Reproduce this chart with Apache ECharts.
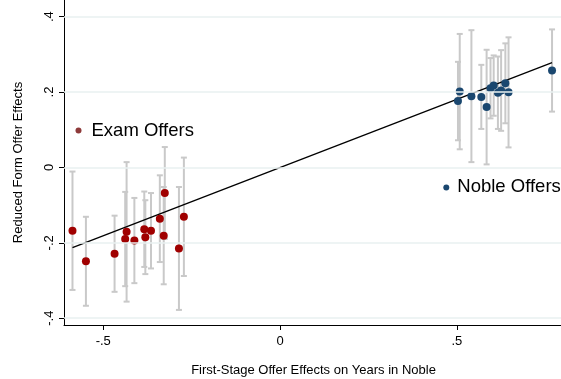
<!DOCTYPE html>
<html>
<head>
<meta charset="utf-8">
<script src="https://cdn.jsdelivr.net/npm/echarts@6/dist/echarts.min.js"></script>
<style>
  html, body { margin: 0; padding: 0; background: #fff; }
  #chart { width: 561px; height: 379px; }
</style>
</head>
<body>
<div id="chart"></div>
<script>
// Exam-school offers: first-stage effect (x), reduced-form effect (y), CI half-width
const examX  = [-0.587, -0.549, -0.468, -0.434, -0.438, -0.412, -0.384, -0.381, -0.365, -0.340, -0.326, -0.329, -0.286, -0.272];
const examY  = [-0.168, -0.249, -0.229, -0.171, -0.190, -0.194, -0.164, -0.185, -0.168, -0.136, -0.068, -0.181, -0.215, -0.131];
const examCI = [ 0.157,  0.118,  0.101,  0.185,  0.125,  0.113,  0.100,  0.098,  0.100,  0.115,  0.122,  0.129,  0.163,  0.157];

// Noble campus offers
const nobleX  = [0.508, 0.503, 0.541, 0.569, 0.584, 0.595, 0.604, 0.616, 0.625, 0.637, 0.646, 0.769];
const nobleY  = [0.201, 0.176, 0.189, 0.187, 0.160, 0.210, 0.217, 0.198, 0.204, 0.223, 0.199, 0.257];
const nobleCI = [0.153, 0.104, 0.175, 0.085, 0.152, 0.080, 0.080, 0.096, 0.107, 0.106, 0.146, 0.109];

// Fitted line across the range of the offer effects
const fitX = [-0.587, 0.769];
const fitY = [-0.213, 0.278];

// Group labels placed inside the plot
const groupNames = ['Exam Offers', 'Noble Offers'];
const groupLabelX = [-0.570, 0.470];
const groupLabelY = [0.098, -0.053];

// Axis ticks
const xTickVals = [-0.5, 0, 0.5];
const yTickVals = [-0.4, -0.2, 0, 0.2, 0.4];

const FONT = '"Liberation Sans", Arial, sans-serif';
const EXAM_COLOR = '#a00000';
const NOBLE_COLOR = '#1a476f';
const BAR_COLOR = '#c9c9c9';

const stataNum = v => {
  if (Math.abs(v) < 1e-9) return '0';
  return String(+v.toFixed(2)).replace('0.', '.');
};

const zip3 = (a, b, c) => a.map((v, i) => [v, b[i], c[i]]);
const zip2 = (a, b) => a.map((v, i) => [v, b[i]]);

function errorBar(params, api) {
  const x = api.value(0), y = api.value(1), h = api.value(2);
  const top = api.coord([x, y + h]);
  const bot = api.coord([x, y - h]);
  const cap = 3;
  const style = { stroke: BAR_COLOR, lineWidth: 2 };
  return {
    type: 'group',
    children: [
      { type: 'line', shape: { x1: top[0], y1: top[1], x2: bot[0], y2: bot[1] }, style },
      { type: 'line', shape: { x1: top[0] - cap, y1: top[1], x2: top[0] + cap, y2: top[1] }, style },
      { type: 'line', shape: { x1: bot[0] - cap, y1: bot[1], x2: bot[0] + cap, y2: bot[1] }, style }
    ]
  };
}

const chart = echarts.init(document.getElementById('chart'), null, { renderer: 'canvas' });

chart.setOption({
  animation: false,
  backgroundColor: '#ffffff',
  textStyle: { fontFamily: FONT },
  grid: {
    left: 64, top: 0, width: 499, height: 325,
    containLabel: false, outerBoundsMode: 'none'
  },
  xAxis: {
    type: 'value',
    min: -0.611, max: 0.8,
    name: 'First-Stage Offer Effects on Years in Noble',
    nameLocation: 'middle',
    nameGap: 39,
    nameTextStyle: { fontFamily: FONT, fontSize: 13, color: '#000' },
    axisLine: { show: true, onZero: false, lineStyle: { color: '#000', width: 1 } },
    axisTick: { show: true, length: 5, customValues: xTickVals, lineStyle: { color: '#000', width: 1 } },
    axisLabel: {
      customValues: xTickVals, formatter: stataNum, margin: 10,
      fontFamily: FONT, fontSize: 13, color: '#000'
    },
    splitLine: { show: false }
  },
  yAxis: {
    type: 'value',
    min: -0.418, max: 0.444,
    name: 'Reduced Form Offer Effects',
    nameLocation: 'middle',
    nameGap: 39,
    nameTextStyle: { fontFamily: FONT, fontSize: 13, color: '#000' },
    axisLine: { show: true, onZero: false, lineStyle: { color: '#000', width: 1 } },
    axisTick: { show: true, length: 5, customValues: yTickVals, lineStyle: { color: '#000', width: 1 } },
    axisLabel: {
      customValues: yTickVals, formatter: stataNum, rotate: 90, margin: 8,
      fontFamily: FONT, fontSize: 13, color: '#000'
    },
    splitLine: { show: false }
  },
  series: [
    {
      // horizontal grid lines at the y ticks
      type: 'line',
      data: [],
      silent: true,
      z: 0,
      markLine: {
        silent: true,
        symbol: ['none', 'none'],
        label: { show: false },
        lineStyle: { color: '#e8f0f1', width: 1.5, type: 'solid', opacity: 1 },
        data: yTickVals.map(v => ({ yAxis: v }))
      }
    },
    {
      type: 'custom',
      renderItem: errorBar,
      data: zip3(examX, examY, examCI),
      encode: { x: 0, y: 1 },
      silent: true,
      z: 1
    },
    {
      type: 'custom',
      renderItem: errorBar,
      data: zip3(nobleX, nobleY, nobleCI),
      encode: { x: 0, y: 1 },
      silent: true,
      z: 1
    },
    {
      type: 'line',
      data: zip2(fitX, fitY),
      showSymbol: false,
      lineStyle: { color: '#000', width: 1.3 },
      silent: true,
      z: 2
    },
    {
      type: 'scatter',
      data: zip2(examX, examY),
      symbol: 'circle',
      symbolSize: 8,
      itemStyle: { color: EXAM_COLOR, opacity: 1 },
      z: 3
    },
    {
      type: 'scatter',
      data: zip2(nobleX, nobleY),
      symbol: 'circle',
      symbolSize: 8,
      itemStyle: { color: NOBLE_COLOR, opacity: 1 },
      z: 3
    },
    {
      type: 'scatter',
      symbol: 'circle',
      symbolSize: 6,
      data: [
        { value: [groupLabelX[0], groupLabelY[0]], name: groupNames[0], itemStyle: { color: '#8e3a3a', opacity: 1 }, label: { distance: 10 } },
        { value: [groupLabelX[1], groupLabelY[1]], name: groupNames[1], itemStyle: { color: NOBLE_COLOR, opacity: 1 }, label: { distance: 8 } }
      ],
      label: {
        show: true,
        position: 'right',
        formatter: p => p.name,
        fontFamily: FONT,
        fontSize: 18.5,
        color: '#000'
      },
      z: 4
    }
  ]
});
</script>
</body>
</html>
